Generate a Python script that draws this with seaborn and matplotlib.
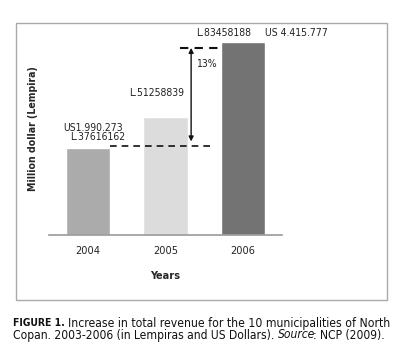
import pandas as pd
import seaborn as sns
import matplotlib.pyplot as plt
from matplotlib.patches import Rectangle

# data (million Lempira)
years = ['2004', '2005', '2006']
lempira = [37.616162, 51.258839, 83.458188]
lempira_labels = ['L.37616162', 'L.51258839', 'L.83458188']
usd_labels = ['US1.990.273', '', 'US 4.415.777']
bar_colors = ['#ababab', '#dcdcdd', '#737373']

sns.set_style('white')
plt.rcParams['font.family'] = ['DejaVu Sans']
plt.rcParams['font.stretch'] = 'condensed'

df = pd.DataFrame({'Year': years, 'Value': lempira})

W, H = 406, 362
fig = plt.figure(figsize=(W / 100, H / 100), dpi=100)
# axes: x from 49 to 282 px, baseline at 235 px, top at 23 px
ax = fig.add_axes([49 / W, (H - 235) / H, (282 - 49) / W, (235 - 23) / H])

sns.barplot(data=df, x='Year', y='Value', hue='Year', palette=bar_colors,
            width=0.57, legend=False, ax=ax, saturation=1)
ax.set_xlim(-0.5, 2.5)
ax.set_ylim(0, 212 / 2.31)

for s in ['top', 'right', 'left']:
    ax.spines[s].set_visible(False)
ax.spines['bottom'].set_color('#9a9a9a')
ax.spines['bottom'].set_linewidth(1.2)
ax.set_yticks([])
ax.set_xticks(range(3))
ax.set_xticks([-0.5, 0.5, 1.5, 2.5], minor=True)
ax.tick_params(axis='x', which='major', length=0, pad=8, labelsize=7.8, colors='#222222')
ax.tick_params(axis='x', which='minor', length=3, direction='in', color='#9a9a9a', width=1.2)
ax.set_xlabel('Years', fontsize=7.8, fontweight='bold', labelpad=11)
ax.set_ylabel('Million dollar (Lempira)', fontsize=7.6, fontweight='bold', labelpad=8)

txt = dict(fontsize=7.5, color='#222222', va='center')
ax.text(1.747, 87.4, lempira_labels[2], ha='center', **txt)
ax.text(2.28, 87.4, usd_labels[2], ha='left', **txt)
ax.text(0.89, 61.5, lempira_labels[1], ha='center', **txt)
ax.text(-0.32, 46.3, usd_labels[0], ha='left', **txt)
ax.text(-0.23, 42.4, lempira_labels[0], ha='left', **txt)
ax.text(1.39, 74, '13%', ha='left', **txt)

# dashed reference lines and double arrow
ax.plot([0.285, 1.61], [lempira[0] + 0.8, lempira[0] + 0.8], ls=(0, (4, 3)), color='#111111', lw=1.2)
ax.plot([1.19, 1.70], [81, 81], ls=(0, (4, 3)), color='#111111', lw=1.5)
ax.annotate('', xy=(1.33, 81), xytext=(1.33, 40.5),
            arrowprops=dict(arrowstyle='<|-|>', color='#111111', lw=1.0,
                            mutation_scale=7, shrinkA=0, shrinkB=0))

# outer frame
fig.patches.append(Rectangle((16 / W, (H - 300) / H), (387 - 16) / W, (300 - 23) / H,
                             transform=fig.transFigure, fill=False,
                             edgecolor='#aaaaaa', lw=1.0))

# caption with mixed styles, first line scaled to span the full width
fig.canvas.draw()
renderer = fig.canvas.get_renderer()


def place(parts, x_px, y_px, scale, base=8.0):
    x = x_px / W
    made = []
    for s, kw in parts:
        opts = dict(fontsize=base, va='center', ha='left', color='#111111')
        opts.update(kw)
        opts['fontsize'] = opts['fontsize'] * scale
        t = fig.text(x, (H - y_px) / H, s, **opts)
        made.append(t)
        x1 = t.get_window_extent(renderer).x1
        if opts.get('style') == 'italic':
            x1 -= 2
        x = x1 / W
    return made, x * W - x_px


line1 = [('FIGURE 1. ', dict(fontweight='bold', fontsize=6.8)),
         ('Increase in total revenue for the 10 municipalities of North', {})]
line2 = [('Copan. 2003-2006 (in Lempiras and US Dollars). ', {}),
         ('Source', dict(style='italic')),
         (': NCP (2009).', {})]

made, width = place(line1, 13, 323, 1.0)
scale = 376 / width
for t in made:
    t.remove()
place(line1, 13, 323, scale)
place(line2, 13, 335, scale * 0.99)

fig.savefig('out.png', dpi=100)
